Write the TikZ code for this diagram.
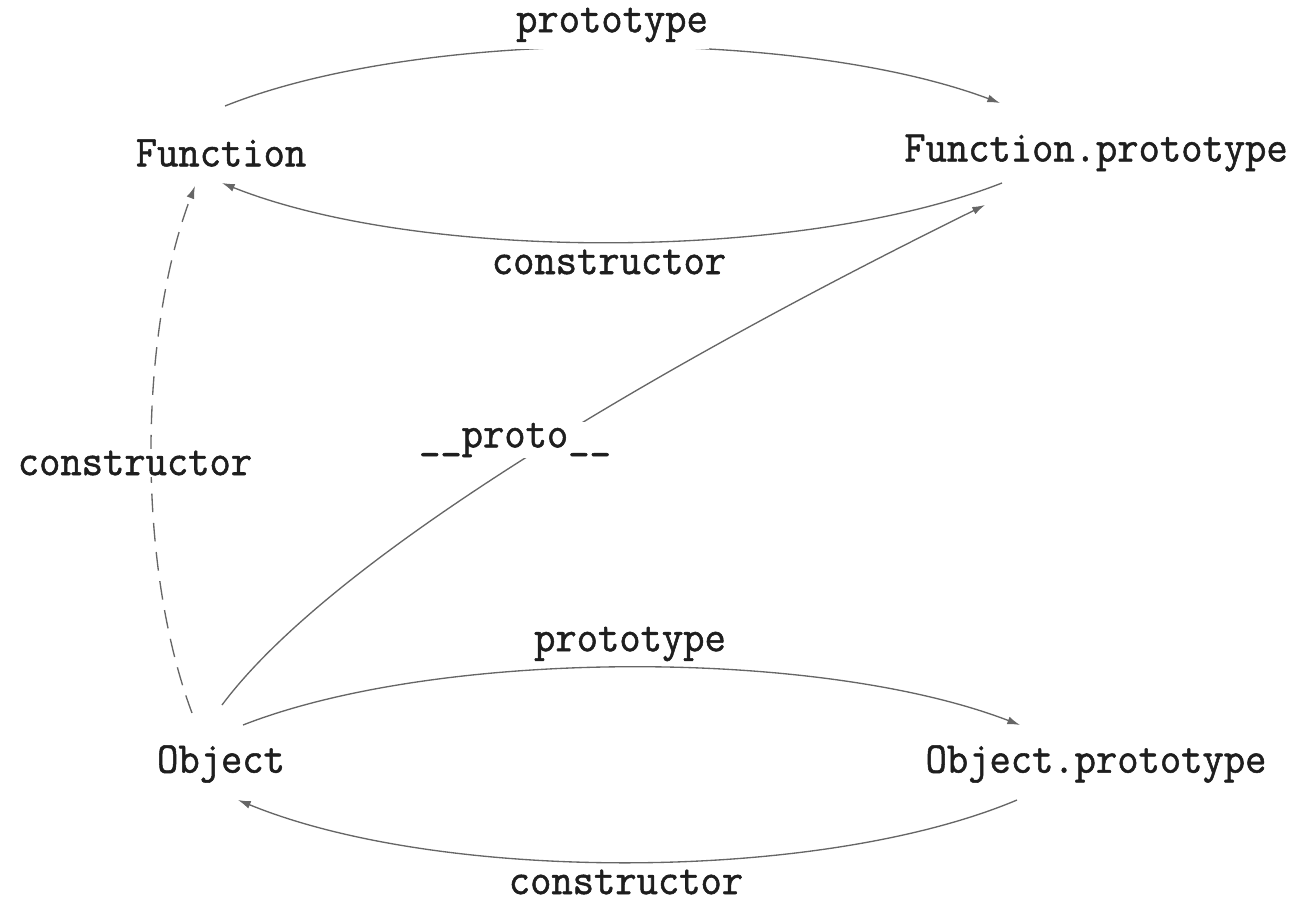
\documentclass[tikz,border=0pt]{standalone}
\usepackage{fontspec}
\setmonofont[FakeStretch=0.94,FakeBold=1.2]{Latin Modern Mono}
\usetikzlibrary{arrows.meta,calc}
\definecolor{linegray}{HTML}{666666}
\definecolor{textgray}{HTML}{1E1E1E}
\begin{document}
\begin{tikzpicture}[x=0.75pt,y=-0.75pt,
		obj/.style={text=textgray,font=\ttfamily\fontsize{33}{36}\selectfont,inner sep=1pt},
		lbl/.style={obj,fill=white},
		link/.style={draw=linegray,line width=1pt,-{Latex[length=9.5pt,width=6pt]}},
		dashlink/.style={link,dash pattern=on 14pt off 8pt}]
	\useasboundingbox (0,0) rectangle (1312,920);

	\node[obj] (fn) at (221,153) {Function};
	\node[obj] (fp) at (1096,153) {Function.prototype};
	\node[obj] (ob) at (221,764) {Object};
	\node[obj] (op) at (1096,764) {Object.prototype};

	\draw[link] ($(fn)+(4,-47)$) .. controls +(195,-78) and +(-200,-75) .. ($(fp)+(-96,-50)$);
	\draw[link] ($(fp)+(-94,30)$) .. controls +(-202,79) and +(198,79) .. ($(fn)+(1,30)$);
	\draw[dashlink] ($(ob)+(-29,-51)$) .. controls +(-57,-153) and +(-55,144) .. ($(fn)+(-26,33)$);
	\draw[link] ($(ob)+(1,-59)$) .. controls +(108,-145) and +(-335,165) .. ($(fp)+(-111,52)$);
	\draw[link] ($(ob)+(22,-39)$) .. controls +(197,-77) and +(-200,-77) .. ($(op)+(-76,-39)$);
	\draw[link] ($(op)+(-79,36)$) .. controls +(-197,83) and +(202,83) .. ($(ob)+(17,36)$);

	\node[lbl,inner ysep=5pt] (fnproto) at (612,25) {prototype};
	\node[lbl] (fnctor) at (609,262) {constructor};
	\node[lbl] (obfnctor) at (135,463) {constructor};
	\node[lbl] (obproto) at (515,440) {\_\_proto\_\_};
	\node[lbl] (opproto) at (630,644) {prototype};
	\node[lbl] (opctor) at (626,882) {constructor};
\end{tikzpicture}
\end{document}
